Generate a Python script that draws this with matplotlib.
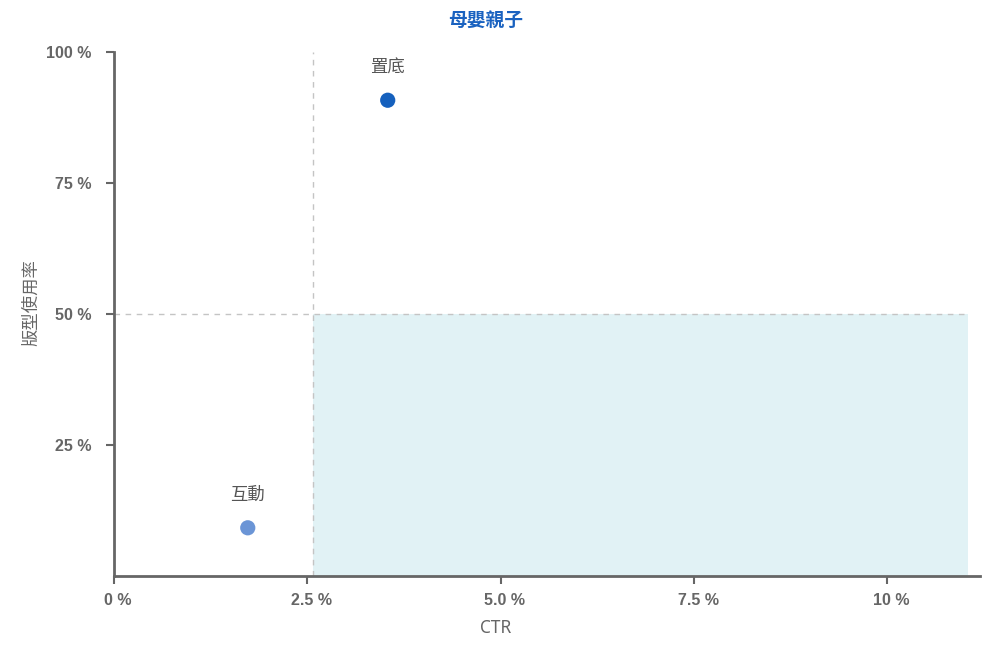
import matplotlib
matplotlib.use("Agg")
import matplotlib.pyplot as plt

# data
names  = ["置底", "互動"]
ctr    = [3.54, 1.73]     # %
usage  = [90.8, 9.2]      # %
colors = ["#1560bd", "#6b95d6"]

xticks = [0, 2.5, 5.0, 7.5, 10]
xlabels = ["0 %", "2.5 %", "5.0 %", "7.5 %", "10 %"]
yticks = [25, 50, 75, 100]
ylabels = ["25 %", "50 %", "75 %", "100 %"]

ctr_line = 2.57
usage_line = 50
x_max = 11.05

cjk = ["Noto Sans CJK TC", "DejaVu Sans"]
grey = "#666666"

W, H = 987, 648
fig = plt.figure(figsize=(W / 100, H / 100), dpi=100)
ax = fig.add_axes([0.1155, 0.1111, 0.8774, 0.8086])

ax.fill_between([ctr_line, x_max], 0, usage_line, color="#e1f2f5", lw=0, zorder=0)
ax.plot([ctr_line, ctr_line], [0, 100], ls=(0, (4, 4)), color="#c4c4c4", lw=1, zorder=1)
ax.plot([0, x_max], [usage_line, usage_line], ls=(0, (4, 4)), color="#c4c4c4", lw=1, zorder=1)

ax.scatter(ctr, usage, s=120, c=colors, zorder=3, linewidths=0)
for n, x, y in zip(names, ctr, usage):
    ax.annotate(n, (x, y), xytext=(0, 17), textcoords="offset points",
                ha="center", va="bottom", fontsize=12.5, color="#555555",
                family=cjk)

ax.set_xlim(0, 11.2)
ax.set_ylim(0, 100)
ax.set_xticks(xticks)
ax.set_xticklabels([])
ax.set_yticks(yticks)
ax.set_yticklabels(ylabels)
# x tick labels sit a little right of their ticks in the reference
for x, lab in zip(xticks, xlabels):
    ax.annotate(lab, (x, 0), xycoords=("data", "axes fraction"),
                xytext=(3, -12), textcoords="offset points",
                ha="center", va="top", family="Liberation Sans",
                fontweight="bold", fontsize=11.5, color=grey)
for lab in ax.get_yticklabels():
    lab.set_family("Liberation Sans")
    lab.set_fontweight("bold")
    lab.set_fontsize(11.5)
    lab.set_color(grey)
ax.tick_params(axis="x", length=6, width=1.5, color=grey)
ax.tick_params(axis="y", length=6, width=1.5, color=grey, pad=10)

for s in ["top", "right"]:
    ax.spines[s].set_visible(False)
for s in ["left", "bottom"]:
    ax.spines[s].set_color(grey)
    ax.spines[s].set_linewidth(2)

fig.text(496 / W, 1 - 628 / H, "CTR", family=["Noto Sans", "DejaVu Sans"],
         fontsize=12.5, color=grey, ha="center", va="center")
fig.text(31 / W, 1 - 303 / H, "版型使用率", family=cjk, fontsize=12.5,
         color=grey, rotation=90, ha="center", va="center")
fig.text(486 / W, 1 - 20 / H, "母嬰親子", family=cjk, fontsize=13.5,
         fontweight="bold", color="#1a62c0", ha="center", va="center")

fig.savefig("out.png", dpi=100)
plt.close(fig)
